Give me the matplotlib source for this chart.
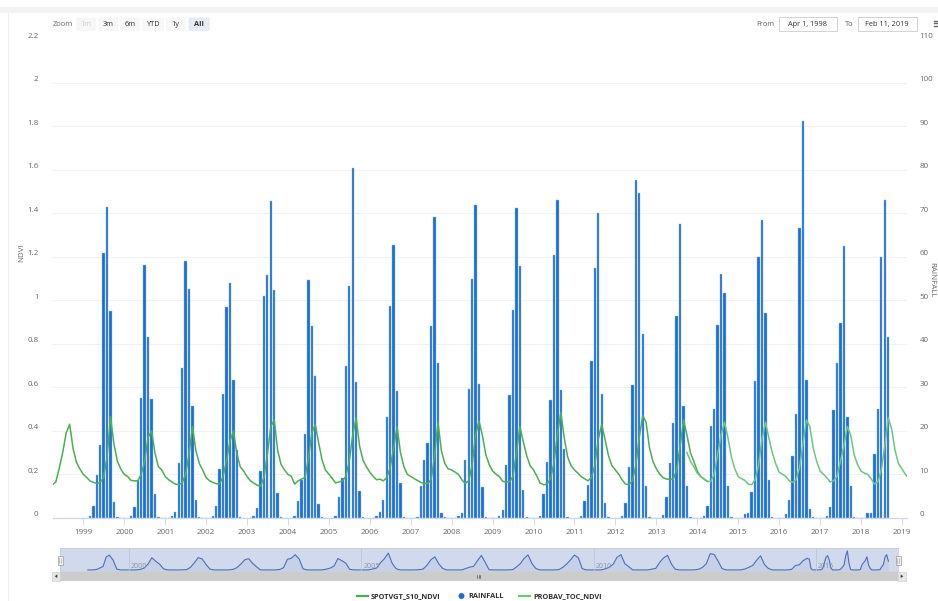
import numpy as np
import pandas as pd
import matplotlib
matplotlib.use("Agg")
import matplotlib.pyplot as plt
import matplotlib.dates as mdates
from matplotlib.patches import Rectangle, FancyBboxPatch, Circle, Polygon
from matplotlib.ticker import FuncFormatter
from matplotlib.transforms import ScaledTranslation

plt.rcParams["font.family"] = ["Open Sans", "DejaVu Sans"]

W, H = 938, 601

# monthly rainfall (mm), Jan..Dec per row, Jan 1999 -> Sep 2018
rainfall = [
    0, 0, 0.4, 2.8, 9.8, 16.8, 61.0, 71.4, 47.5, 3.6, 0.2, 0,     # 1999
    0, 0, 0.4, 2.5, 8.7, 27.6, 58.2, 41.5, 27.3, 5.5, 0.2, 0,     # 2000
    0, 0, 0.4, 1.3, 12.5, 34.5, 59.1, 52.7, 25.8, 4.1, 0.2, 0,    # 2001
    0, 0, 0.4, 2.7, 11.2, 28.5, 48.5, 53.9, 31.6, 15.5, 0.2, 0,   # 2002
    0, 0, 0.5, 2.3, 10.7, 50.9, 55.8, 72.9, 52.4, 5.6, 0.2, 0,    # 2003
    0, 0, 0.5, 3.8, 8.7, 19.3, 54.7, 44.1, 32.5, 3.1, 0.2, 0,     # 2004
    0, 0, 0.5, 4.7, 9.1, 34.8, 53.2, 80.5, 31.2, 6.2, 0.2, 0,     # 2005
    0, 0, 0.4, 1.4, 4.2, 23.1, 48.7, 62.8, 29.2, 7.9, 0.1, 0,     # 2006
    0, 0, 0.2, 7.2, 13.4, 17.1, 44.0, 69.2, 35.6, 1.0, 0.1, 0,    # 2007
    0, 0, 0.5, 1.1, 13.3, 29.7, 55.0, 72.0, 30.8, 7.0, 0.2, 0,    # 2008
    0, 0, 0.4, 1.9, 12.1, 28.2, 47.7, 71.3, 57.9, 6.5, 0.2, 0,    # 2009
    0, 0, 0.4, 5.5, 12.8, 27.2, 60.4, 73.0, 29.5, 15.8, 0.2, 0,   # 2010
    0, 0, 0.4, 3.9, 7.5, 36.1, 57.4, 70.0, 28.4, 3.5, 0.2, 0,     # 2011
    0, 0, 0.4, 3.5, 11.7, 30.5, 77.8, 74.6, 42.3, 7.4, 0.2, 0,    # 2012
    0, 0, 0.6, 4.7, 12.7, 21.8, 46.5, 67.5, 25.6, 7.4, 0.2, 0,    # 2013
    0, 0, 0.4, 2.8, 21.1, 25.0, 44.4, 56.1, 51.6, 7.4, 0.2, 0,    # 2014
    0, 0, 0.8, 1.1, 6.0, 31.5, 60.0, 68.4, 47.0, 8.8, 0.1, 0,     # 2015
    0, 0, 0.8, 4.2, 14.2, 23.8, 66.6, 91.2, 31.8, 2.1, 0.1, 0,    # 2016
    0, 0, 0.4, 2.4, 24.8, 35.5, 44.9, 62.5, 23.2, 7.3, 0.2, 0,    # 2017
    0, 0, 1.0, 1.2, 14.7, 25.1, 60.0, 73.2, 41.5,                 # 2018
]

# SPOT VGT NDVI, monthly from Apr 1998 to Apr 2014
spot_ndvi = [
    .152, .165, .23, .30, .39, .43, .32, .255, .225,                   # 1998 (Apr-Dec)
    .20, .185, .17, .163, .158, .163, .185, .28, .465, .34, .26, .225,  # 1999
    .20, .19, .172, .17, .17, .20, .26, .37, .40, .30, .235, .22,       # 2000
    .19, .175, .165, .155, .152, .16, .20, .29, .42, .31, .25, .22,     # 2001
    .185, .17, .163, .157, .155, .19, .26, .35, .40, .30, .235, .215,   # 2002
    .19, .17, .16, .15, .145, .185, .29, .42, .45, .31, .245, .22,      # 2003
    .20, .19, .155, .17, .178, .185, .27, .39, .43, .345, .265, .22,    # 2004
    .20, .18, .16, .165, .17, .19, .26, .38, .46, .33, .265, .235,      # 2005
    .21, .19, .175, .178, .17, .185, .23, .32, .42, .30, .235, .20,     # 2006
    .19, .18, .172, .163, .158, .158, .175, .28, .44, .31, .25, .225,   # 2007
    .22, .21, .20, .175, .158, .17, .24, .38, .445, .38, .29, .245,     # 2008
    .215, .20, .19, .168, .164, .165, .19, .30, .42, .35, .285, .24,    # 2009
    .22, .19, .16, .152, .155, .18, .25, .38, .485, .37, .28, .24,      # 2010
    .22, .205, .19, .18, .17, .185, .24, .36, .43, .36, .285, .24,      # 2011
    .22, .20, .175, .155, .152, .17, .24, .37, .47, .44, .32, .26,      # 2012
    .225, .20, .185, .178, .178, .178, .22, .33, .45, .38, .30, .26,    # 2013
    .215, .19, .178, .167,                                              # 2014 (Jan-Apr)
]

# PROBA-V NDVI, monthly from Oct 2013, last value on Feb 11 2019
probav_ndvi = [
    .30, .26, .235,                                                     # 2013 (Oct-Dec)
    .205, .19, .18, .168, .167, .20, .29, .38, .44, .37, .28, .227,     # 2014
    .19, .18, .172, .155, .152, .175, .24, .36, .44, .37, .30, .25,     # 2015
    .21, .20, .19, .17, .163, .175, .23, .34, .45, .42, .32, .26,       # 2016
    .215, .20, .185, .165, .17, .19, .26, .33, .42, .38, .29, .245,     # 2017
    .215, .205, .20, .18, .155, .165, .22, .33, .46, .41, .31, .25,     # 2018
    .225, .20, .193,                                                    # 2019 (Jan, Feb 1, Feb 11)
]

rain_dates = pd.date_range("1999-01-01", periods=len(rainfall), freq="MS")
spot_dates = pd.date_range("1998-04-01", periods=len(spot_ndvi), freq="MS")
probav_dates = list(pd.date_range("2013-10-01", periods=len(probav_ndvi) - 1, freq="MS")) + [pd.Timestamp("2019-02-11")]

year_ticks = list(range(1999, 2020))
nav_labels = [2000, 2005, 2010, 2015]

SPOT_C = "#4caf50"
PROBAV_C = "#6cc77a"
RAIN_C = "#1a6fd6"
LABEL_C = "#666666"

x_start, x_end = pd.Timestamp("1998-04-01"), pd.Timestamp("2019-02-11")

fig = plt.figure(figsize=(W / 100, H / 100), dpi=100)


def px_axes(x0, y0, x1, y1):
    return fig.add_axes([x0 / W, 1 - y1 / H, (x1 - x0) / W, (y1 - y0) / H])


# main plot area
ax = px_axes(52.5, 39.5, 906.5, 517.8)
ax2 = ax.twinx()
ax.set_zorder(ax2.get_zorder() + 1)
ax.patch.set_visible(False)

ax2.bar(rain_dates, rainfall, width=21, color=RAIN_C, edgecolor="#8fb8ec", linewidth=0.3, zorder=2)
ax.plot(spot_dates, spot_ndvi, color=SPOT_C, lw=1.1, zorder=3)
ax.plot(probav_dates, probav_ndvi, color=PROBAV_C, lw=1.1, zorder=4)

ax.set_xlim(x_start, x_end)
ax.set_ylim(0, 2.2)
ax2.set_ylim(0, 110)
ax.set_yticks(np.arange(0, 2.21, 0.2))
ax2.set_yticks(np.arange(0, 111, 10))
ax.yaxis.set_major_formatter(FuncFormatter(lambda v, p: f"{v:g}"))
ax2.yaxis.set_major_formatter(FuncFormatter(lambda v, p: f"{v:g}"))
for y in np.arange(0.2, 2.21, 0.2):
    ax2.axhline(y * 50, color="#f2f2f2", lw=0.8, zorder=0)

ax.set_xticks([pd.Timestamp(f"{y}-01-01") for y in year_ticks])
ax.set_xticklabels([str(y) for y in year_ticks])
ax.tick_params(axis="x", length=5, width=0.6, color="#ccd6eb", labelsize=5.8, labelcolor=LABEL_C, pad=3)
ax.tick_params(axis="y", length=0, labelsize=5.8, labelcolor=LABEL_C, pad=10)
ax2.tick_params(axis="y", length=0, labelsize=5.8, labelcolor=LABEL_C, pad=9.5)
for a in (ax, ax2):
    for s in ("top", "left", "right"):
        a.spines[s].set_visible(False)
    a.spines["bottom"].set_color("#ccd6eb")
    a.spines["bottom"].set_linewidth(0.8)

off = ScaledTranslation(0, 3 / 72, fig.dpi_scale_trans)
for lab in ax.get_yticklabels() + ax2.get_yticklabels():
    lab.set_transform(lab.get_transform() + off)

fig.text(22 / W, 1 - 253 / H, "NDVI", rotation=90, ha="center", va="center", fontsize=5.8, color=LABEL_C)
fig.text(931.5 / W, 1 - 280 / H, "RAINFALL", rotation=270, ha="center", va="center", fontsize=5.8, color=LABEL_C)

# navigator (ordinal-like compressed axis)
nav_years = [1998.25, 1999.6, 2014.6, 2015.6, 2018.6, 2019.11]
nav_px = [60, 110, 808, 828, 887, 898]


def dec_year(d):
    d = pd.DatetimeIndex(d)
    return d.year + (d.dayofyear - 1) / 365.25


nav = px_axes(60, 548, 898, 571)
nav.set_xlim(60, 898)
nav.set_ylim(-5, 105)
nav.set_facecolor("#d1daed")
nx = np.interp(dec_year(rain_dates), nav_years, nav_px)
nav.fill_between(nx, rainfall, -5, color="#c6d0e8", lw=0)
nav.plot(nx, rainfall, color="#4a6fba", lw=0.8)
for y in nav_labels:
    xp = np.interp(y, nav_years, nav_px)
    nav.axvline(xp, color="#bcc6dc", lw=0.6)
    nav.text(xp + 2, 2, str(y), fontsize=5, color="#8a93a8", va="bottom", ha="left")
nav.set_xticks([])
nav.set_yticks([])
for s in nav.spines.values():
    s.set_color("#cccccc")
    s.set_linewidth(0.6)

# overlay for chrome drawn in pixel coordinates
ov = fig.add_axes([0, 0, 1, 1], zorder=10)
ov.set_xlim(0, W)
ov.set_ylim(H, 0)
ov.axis("off")
ov.patch.set_visible(False)

ov.add_patch(Rectangle((0, 6.5), W, 6.5, color="#f3f3f3", lw=0))
ov.plot([8, 8], [13, H], color="#eeeeee", lw=0.8)

# range selector
ov.text(53, 24, "Zoom", fontsize=5.5, color="#666666", va="center", ha="left")
btn_labels = ["1m", "3m", "6m", "YTD", "1y", "All"]
btn_x = [76.5, 98.5, 120.5, 142.5, 166, 188.5]
btn_w = [19.5, 19.5, 19.5, 21.5, 19.5, 21]
for lbl, bx, bw in zip(btn_labels, btn_x, btn_w):
    fc = "#e6ebf5" if lbl == "All" else "#f7f7f7"
    tc = "#cccccc" if lbl == "1m" else "#333333"
    ov.add_patch(FancyBboxPatch((bx, 17.5), bw, 13.5, boxstyle="round,pad=0,rounding_size=1.5", fc=fc, ec="none"))
    ov.text(bx + bw / 2, 24.3, lbl, fontsize=5.3, color=tc, ha="center", va="center",
            fontweight="bold" if lbl == "All" else "normal")

ov.text(774, 24.3, "From", fontsize=5.3, color="#666666", ha="right", va="center")
ov.add_patch(Rectangle((779, 17.3), 58, 13.7, fc="white", ec="#cccccc", lw=0.6))
ov.text(808, 24.3, "Apr 1, 1998", fontsize=5.3, color="#333333", ha="center", va="center")
ov.text(853, 24.3, "To", fontsize=5.3, color="#666666", ha="right", va="center")
ov.add_patch(Rectangle((858, 17.3), 58.5, 13.7, fc="white", ec="#cccccc", lw=0.6))
ov.text(887, 24.3, "Feb 11, 2019", fontsize=5.3, color="#333333", ha="center", va="center")
for yy in (20.5, 23.3, 26.1):
    ov.plot([934, 938], [yy, yy], color="#666666", lw=1.0)

# navigator handles
for hx in (60, 898):
    ov.add_patch(Rectangle((hx - 2.5, 555.5), 5, 9.5, fc="#f2f2f2", ec="#999999", lw=0.5))
    ov.plot([hx - 0.7, hx - 0.7], [558, 562.5], color="#999999", lw=0.4)
    ov.plot([hx + 0.7, hx + 0.7], [558, 562.5], color="#999999", lw=0.4)

# scrollbar
ov.add_patch(Rectangle((52, 572), 854, 8.5, fc="#f2f2f2", lw=0))
ov.add_patch(Rectangle((60, 572), 838, 8.5, fc="#cccccc", lw=0))
ov.add_patch(Rectangle((52, 572), 8, 8.5, fc="#e6e6e6", ec="#cccccc", lw=0.4))
ov.add_patch(Rectangle((898, 572), 8, 8.5, fc="#e6e6e6", ec="#cccccc", lw=0.4))
ov.add_patch(Polygon([[57.3, 574.5], [57.3, 578], [54.8, 576.25]], closed=True, fc="#333333", lw=0))
ov.add_patch(Polygon([[900.7, 574.5], [900.7, 578], [903.2, 576.25]], closed=True, fc="#333333", lw=0))
for rx in (477, 478.5, 480):
    ov.plot([rx, rx], [574.5, 578], color="#333333", lw=0.4)

# legend
ov.plot([357, 368], [596, 596], color=SPOT_C, lw=1.6)
ov.text(371, 596.3, "SPOTVGT_S10_NDVI", fontsize=5.3, fontweight="bold", color="#333333", va="center", ha="left")
ov.add_patch(Circle((461.5, 596), 3, color=RAIN_C, lw=0))
ov.text(468, 596.3, "RAINFALL", fontsize=5.3, fontweight="bold", color="#333333", va="center", ha="left")
ov.plot([519, 530], [596, 596], color=PROBAV_C, lw=1.6)
ov.text(533, 596.3, "PROBAV_TOC_NDVI", fontsize=5.3, fontweight="bold", color="#333333", va="center", ha="left")

fig.savefig("out.png", dpi=100)
